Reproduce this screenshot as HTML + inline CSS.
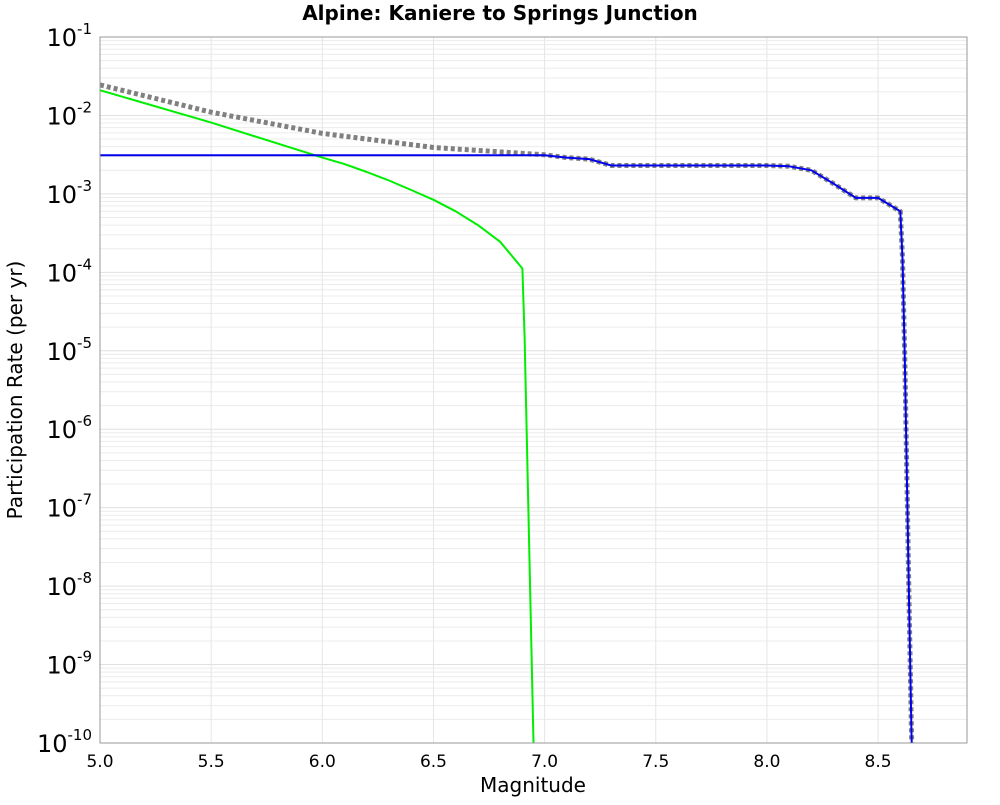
<!DOCTYPE html>
<html><head><meta charset="utf-8"><style>
body{margin:0;background:#fff;font-family:"Liberation Sans","DejaVu Sans",sans-serif}
</style></head><body>
<svg id="chart" width="1000" height="800" xmlns="http://www.w3.org/2000/svg" font-family="DejaVu Sans, Liberation Sans, sans-serif">
<rect width="1000" height="800" fill="#fff"/>
<text x="500" y="20" text-anchor="middle" font-size="20" font-weight="bold">Alpine: Kaniere to Springs Junction</text>
<g id="grid"></g>
<g id="series"></g>
<rect x="100" y="37" width="867" height="706" fill="none" stroke="#999" stroke-width="1"/>
<g id="xticks"></g>
<g id="yticks"></g>
<text x="533" y="792" text-anchor="middle" font-size="20">Magnitude</text>
<text transform="translate(22,390) rotate(-90)" text-anchor="middle" font-size="20">Participation Rate (per yr)</text>
</svg>
<script>
const xTickLabels=["5.0","5.5","6.0","6.5","7.0","7.5","8.0","8.5"];
const yDecades=[-1,-2,-3,-4,-5,-6,-7,-8,-9,-10];
const blueMag=[5.0,7.0,7.1,7.2,7.3,7.5,8.0,8.1,8.2,8.3,8.4,8.5,8.6,8.61,8.62,8.63,8.64,8.65,8.66];
const blueRate=[3.1e-3,3.1e-3,2.9e-3,2.78e-3,2.3e-3,2.3e-3,2.3e-3,2.25e-3,2.0e-3,1.35e-3,8.9e-4,8.9e-4,6.0e-4,1.5e-4,8e-6,2e-7,5e-9,1.5e-10,1e-11];
const greenMag=[5.0,5.5,6.0,6.1,6.2,6.3,6.4,6.5,6.6,6.7,6.8,6.9,6.91,6.95,6.96];
const greenRate=[2.1e-2,8.1e-3,2.9e-3,2.4e-3,1.9e-3,1.48e-3,1.12e-3,8.4e-4,6.0e-4,4.0e-4,2.45e-4,1.12e-4,1.5e-5,1e-10,1e-11];
const grayMag=[5.0,5.5,6.0,6.5,7.0,7.1,7.2,7.3,7.5,8.0,8.1,8.2,8.3,8.4,8.5,8.6,8.61,8.62,8.63,8.64,8.65,8.66];
const grayRate=[2.45e-2,1.1e-2,5.9e-3,3.9e-3,3.15e-3,2.9e-3,2.78e-3,2.3e-3,2.3e-3,2.3e-3,2.25e-3,2.0e-3,1.35e-3,8.9e-4,8.9e-4,6.0e-4,1.5e-4,8e-6,2e-7,5e-9,1.5e-10,1e-11];
const NS="http://www.w3.org/2000/svg";
const X0=100,X1=967,Y0=37,Y1=743,xmin=5.0,xmax=8.9,lmax=-1,lmin=-10;
function xs(m){return X0+(m-xmin)/(xmax-xmin)*(X1-X0);}
function ys(v){return Y0+(lmax-Math.log10(v))/(lmax-lmin)*(Y1-Y0);}
function mk(t,a,p){const e=document.createElementNS(NS,t);for(const k in a)e.setAttribute(k,a[k]);p.appendChild(e);return e;}
const grid=document.getElementById('grid');
for(let d=-10;d<-1;d++){for(let k=1;k<10;k++){const v=k*Math.pow(10,d);const y=ys(v);
const l=mk('line',{x1:X0,x2:X1,y1:y,y2:y,stroke:k==1?'#e0e0e0':'#ececec','stroke-width':1},grid);

}}
const xt=document.getElementById('xticks');
xTickLabels.forEach(s=>{const x=xs(parseFloat(s));
const l=mk('line',{x1:x,x2:x,y1:Y0,y2:Y1,stroke:'#e6e6e6','stroke-width':1},grid);


const t=mk('text',{x:x,y:767,'text-anchor':'middle','font-size':17},xt);t.textContent=s;

});
const yt=document.getElementById('yticks');
yDecades.forEach(d=>{const y=ys(Math.pow(10,d));
const t=mk('text',{x:92,y:y+9,'text-anchor':'end','font-size':24},yt);


const a=document.createElementNS(NS,'tspan');a.textContent='10';t.appendChild(a);
const b=document.createElementNS(NS,'tspan');b.setAttribute('dy','-12');b.setAttribute('font-size','15');b.textContent=String(d);t.appendChild(b);});
const ser=document.getElementById('series');
const cp=mk('clipPath',{id:'cp'},ser);
mk('rect',{x:X0,y:Y0,width:X1-X0,height:Y1-Y0},cp);
function line(ms,rs,style,name){const pts=ms.map((m,i)=>xs(m).toFixed(1)+','+ys(rs[i]).toFixed(1)).join(' ');
const p=mk('polyline',Object.assign({points:pts,fill:'none','clip-path':'url(#cp)','stroke-linejoin':'round'},style),ser);

}
line(grayMag,grayRate,{stroke:'#808080','stroke-width':5,'stroke-dasharray':'4 3'},'total-rate-line');
line(greenMag,greenRate,{stroke:'#00ee00','stroke-width':2},'gr-rate-line');
line(blueMag,blueRate,{stroke:'#0000ee','stroke-width':2},'characteristic-rate-line');
</script>
</body></html>
